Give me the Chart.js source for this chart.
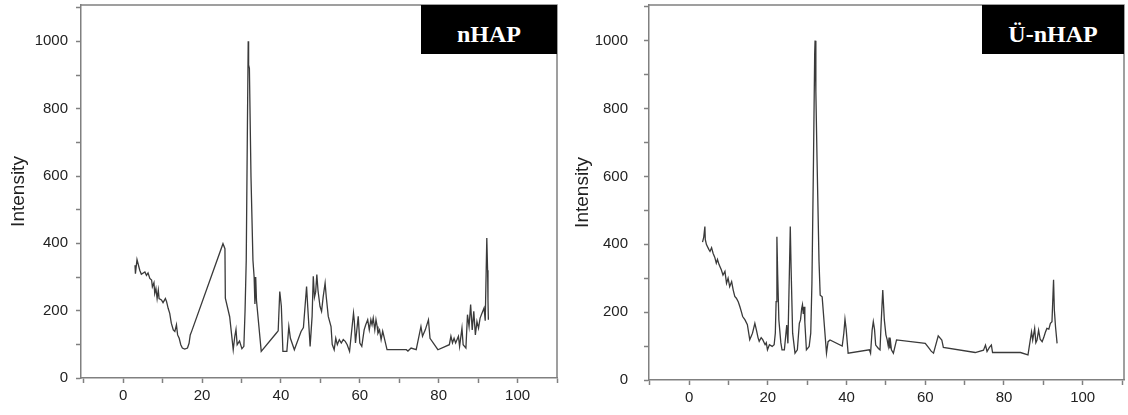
<!DOCTYPE html>
<html><head><meta charset="utf-8">
<script src="https://cdn.jsdelivr.net/npm/chart.js@4"></script>
<style>
html,body{margin:0;padding:0;background:#fff;width:1128px;height:415px;overflow:hidden;}
.panel{position:absolute;top:0;width:564px;height:415px;}
canvas{position:absolute;left:0;top:0;}
.tag{position:absolute;box-sizing:border-box;padding-top:10px;background:#000;color:#fff;font:bold 24px "Liberation Serif","Times New Roman",serif;display:flex;align-items:center;justify-content:center;}
</style></head><body>
<div class="panel" style="left:0"><canvas id="c1" width="564" height="415"></canvas><div class="tag" style="left:421px;top:5px;width:136px;height:49px">nHAP</div></div>
<div class="panel" style="left:564px"><canvas id="c2" width="564" height="415"></canvas><div class="tag" style="left:418px;top:5px;width:142px;height:49px">Ü-nHAP</div></div>
<script>
// ---- Data: nHAP ----
const nhapAngle = [3.0,3.1,3.5,4.2,4.6,5.5,5.9,6.3,6.75,7.2,7.4,7.8,8.0,8.3,8.6,8.9,9.1,9.7,10.1,10.7,11.0,11.4,11.8,12.2,12.7,13.1,13.5,13.8,14.2,14.6,15.0,15.6,16.3,16.7,17.0,17.4,
25.3,25.8,25.9,27.0,27.9,28.3,28.6,28.9,29.5,30.1,30.6,30.9,31.2,31.5,31.7,31.8,32.0,32.4,32.9,33.2,33.4,33.6,33.8,35.0,
38.8,39.3,39.7,40.1,40.5,41.5,42.0,42.4,43.4,45.1,45.7,46.5,46.8,47.4,47.9,48.2,48.5,48.8,49.1,49.4,49.9,50.3,50.7,51.2,51.5,52.0,52.7,53.0,53.5,53.9,54.3,54.8,55.3,55.8,56.3,56.8,57.4,
58.4,58.6,58.9,59.6,60.0,60.5,61.1,61.5,62.0,62.4,62.8,63.1,63.4,63.8,64.1,64.4,64.6,65.0,65.4,65.8,66.9,71.8,72.2,73.0,74.3,75.5,75.9,76.6,77.4,77.8,79.8,
82.7,83.1,83.5,83.9,84.3,85.0,85.3,85.9,86.2,86.9,87.3,87.7,88.1,88.5,88.9,89.3,89.7,90.1,90.5,91.0,91.5,91.8,92.2,92.4,92.5,92.6];
const nhapIntensity = [335,310,352,320,308,315,305,312,296,291,271,283,251,266,236,261,236,232,224,236,227,207,192,163,143,138,158,128,118,99,89,86,89,103,128,140,
399,384,237,182,84,124,144,99,110,87,94,200,350,750,1000,930,920,600,350,300,220,300,230,79,
133,140,257,213,79,79,153,118,84,138,150,272,210,94,183,302,240,255,307,260,213,198,240,282,240,183,153,100,84,118,99,114,104,114,109,99,79,
193,170,104,183,104,94,143,158,173,143,173,158,178,143,173,153,133,143,114,139,84,84,80,89,84,153,124,143,173,118,84,
99,124,104,118,104,124,94,148,99,89,188,153,218,143,198,128,168,148,178,193,208,170,416,320,230,173];

// ---- Data: Ü-nHAP ----
const unhapAngle = [3.4,3.7,4.0,4.1,4.4,5.0,5.3,5.7,6.1,6.5,6.9,7.2,7.6,8.2,8.6,9.1,9.5,9.9,10.3,10.8,11.2,11.6,12.0,12.5,12.9,13.3,13.6,14.2,14.8,15.4,15.8,16.1,16.7,17.1,17.5,17.8,18.3,18.7,19.3,19.6,19.9,20.4,21.1,21.6,21.9,
22.1,22.3,22.5,22.8,23.3,23.6,24.2,24.8,25.1,25.5,25.7,25.9,26.3,26.9,27.5,28.0,28.3,28.6,28.8,29.0,29.2,29.4,29.8,30.5,30.9,31.2,31.6,31.9,32.0,32.2,32.5,33.0,33.3,33.8,34.9,35.3,35.8,
38.9,39.3,39.6,39.9,40.4,45.8,46.1,46.5,46.8,47.1,47.4,48.1,48.5,48.8,49.2,49.6,50.0,50.3,50.6,50.8,51.0,51.2,51.4,51.9,52.7,60.0,60.8,61.5,62.1,63.3,64.2,64.6,
72.7,74.8,75.3,75.7,76.3,76.8,77.1,84.2,86.1,87.0,87.3,87.8,88.1,88.4,88.8,89.2,89.7,90.1,90.5,90.9,91.4,91.8,92.2,92.6,92.8,93.1,93.5];
const unhapIntensity = [406,420,452,414,399,385,379,390,373,362,344,355,340,324,309,320,285,300,275,290,265,246,241,230,216,200,187,177,163,119,130,138,167,147,125,114,125,119,104,110,89,104,99,104,138,
231,422,310,177,110,89,89,162,108,334,452,334,138,79,89,167,177,211,222,195,216,170,89,99,138,285,650,960,1000,850,650,350,250,245,79,113,118,
100,137,179,150,79,89,79,147,172,150,103,93,89,170,265,177,133,120,100,125,93,110,89,79,118,108,96,85,79,130,118,96,
81,88,103,84,96,103,81,81,74,142,118,152,110,118,147,120,113,125,140,152,150,167,172,295,206,157,108];

// ---- Axis ticks (minor ticks get empty labels) ----
const xTickValues = [-10,0,10,20,30,40,50,60,70,80,90,100,110];
const xTickLabels = ['','0','','20','','40','','60','','80','','100',''];
const yTickValues = [0,100,200,300,400,500,600,700,800,900,1000,1100];
const yTickLabels = ['0','','200','','400','','600','','800','','1000',''];
const yAxisTitle = 'Intensity';

const axisGray = '#808080';
const fontFam = '"Liberation Sans", Arial, sans-serif';

const framePlugin = {
  id: 'frame',
  afterDraw(chart) {
    const {ctx, chartArea: a} = chart;
    ctx.save();
    ctx.strokeStyle = axisGray;
    ctx.lineWidth = 1.5;
    ctx.beginPath();
    ctx.moveTo(a.left, a.top);
    ctx.lineTo(a.right, a.top);
    ctx.lineTo(a.right, a.bottom);
    ctx.stroke();
    ctx.restore();
  }
};

function makeChart(id, angles, intens, g) {
  new Chart(document.getElementById(id), {
    type: 'line',
    data: {
      datasets: [{
        data: angles.map((a, i) => ({x: a, y: intens[i]})),
        borderColor: '#3a3a3a',
        borderWidth: 1.3,
        pointRadius: 0,
        tension: 0,
        fill: false
      }]
    },
    options: {
      responsive: false,
      animation: false,
      devicePixelRatio: 1,
      layout: {padding: {left: 5, right: g.padRight, top: 5, bottom: 0}},
      plugins: {legend: {display: false}, tooltip: {enabled: false}},
      scales: {
        x: {
          type: 'linear', min: g.xMin, max: g.xMax,
          afterBuildTicks: s => { s.ticks = xTickValues.filter(v => v >= g.xMin && v <= g.xMax).map(v => ({value: v})); },
          afterFit: s => { s.height = g.xHeight; s.paddingLeft = 0; s.paddingRight = 0; },
          grid: {drawOnChartArea: false, drawTicks: true, tickLength: 5, tickColor: axisGray, tickWidth: 1.5},
          border: {color: axisGray, width: 1.5},
          ticks: {
            autoSkip: false, maxRotation: 0, padding: 4,
            color: '#222', font: {family: fontFam, size: 15},
            callback: v => { const k = xTickValues.indexOf(v); return k >= 0 ? xTickLabels[k] : ''; }
          }
        },
        y: {
          min: 0, max: g.yMax,
          afterBuildTicks: s => { s.ticks = yTickValues.filter(v => v <= g.yMax).map(v => ({value: v})); },
          afterFit: s => { s.width = g.yWidth; s.paddingTop = 0; s.paddingBottom = 0; },
          grid: {drawOnChartArea: false, drawTicks: true, tickLength: 5, tickColor: axisGray, tickWidth: 1.5},
          border: {color: axisGray, width: 1.5},
          ticks: {
            autoSkip: false, padding: g.yPad,
            color: '#222', font: {family: fontFam, size: 15},
            callback: v => { const k = yTickValues.indexOf(v); return k >= 0 ? yTickLabels[k] : ''; }
          },
          title: {display: true, text: yAxisTitle, color: '#222', font: {family: fontFam, size: 19}, padding: {top: 2, bottom: 4}}
        }
      }
    },
    plugins: [framePlugin]
  });
}

makeChart('c1', nhapAngle, nhapIntensity, {xMin: -10.7, xMax: 110, yMax: 1108, padRight: 7, xHeight: 37, yWidth: 76, yPad: 8});
makeChart('c2', unhapAngle, unhapIntensity, {xMin: -10.2, xMax: 110.5, yMax: 1105, padRight: 4, xHeight: 35, yWidth: 80, yPad: 16});
</script>
</body></html>
